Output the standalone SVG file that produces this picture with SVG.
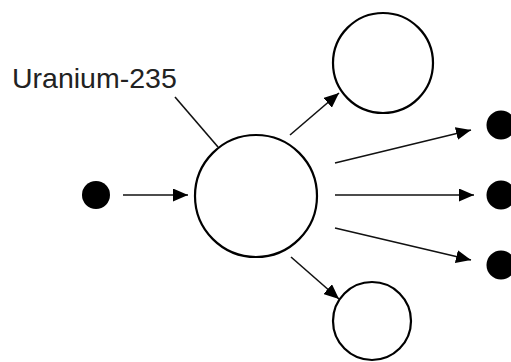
<svg xmlns="http://www.w3.org/2000/svg" width="511" height="362" viewBox="0 0 511 362">
<style>
.atom{fill:#fff;stroke:#000;stroke-width:2.2}
.dot{fill:#000}
.conn{stroke:#111;stroke-width:1.6;fill:none}
.lbl{font-family:"Liberation Sans",Arial,sans-serif;font-size:28.5px;fill:#222}
</style>
<defs>
<marker id="ah" markerUnits="userSpaceOnUse" markerWidth="16" markerHeight="13" refX="15" refY="6.5" orient="auto">
<path d="M0,0 L15,6.5 L0,13 Z" fill="#000"/>
</marker>
</defs>
<rect width="511" height="362" fill="#fff"/>
<g id="label">
<text class="lbl" x="12" y="88">Uranium-235</text>
</g>
<g id="u235"><circle class="atom" cx="256" cy="196" r="61"/></g>
<g id="fragment-top"><circle class="atom" cx="383" cy="63" r="50"/></g>
<g id="fragment-bottom"><circle class="atom" cx="372" cy="321" r="39"/></g>
<g id="neutron-in"><circle class="dot" cx="96" cy="195" r="14"/></g>
<g id="neutron-out-1"><circle class="dot" cx="501" cy="125" r="14.5"/></g>
<g id="neutron-out-2"><circle class="dot" cx="501" cy="195" r="14.5"/></g>
<g id="neutron-out-3"><circle class="dot" cx="501" cy="265" r="14.5"/></g>
<g id="connectors">
<line class="conn" x1="175" y1="97" x2="218" y2="147"/>
<line class="conn" x1="123" y1="195" x2="188" y2="195" marker-end="url(#ah)"/>
<line class="conn" x1="290" y1="135" x2="339" y2="93" marker-end="url(#ah)"/>
<line class="conn" x1="291" y1="257" x2="339" y2="299" marker-end="url(#ah)"/>
<line class="conn" x1="335" y1="163" x2="471" y2="130" marker-end="url(#ah)"/>
<line class="conn" x1="335" y1="195" x2="474" y2="195" marker-end="url(#ah)"/>
<line class="conn" x1="335" y1="228" x2="471" y2="260" marker-end="url(#ah)"/>
</g>
</svg>
